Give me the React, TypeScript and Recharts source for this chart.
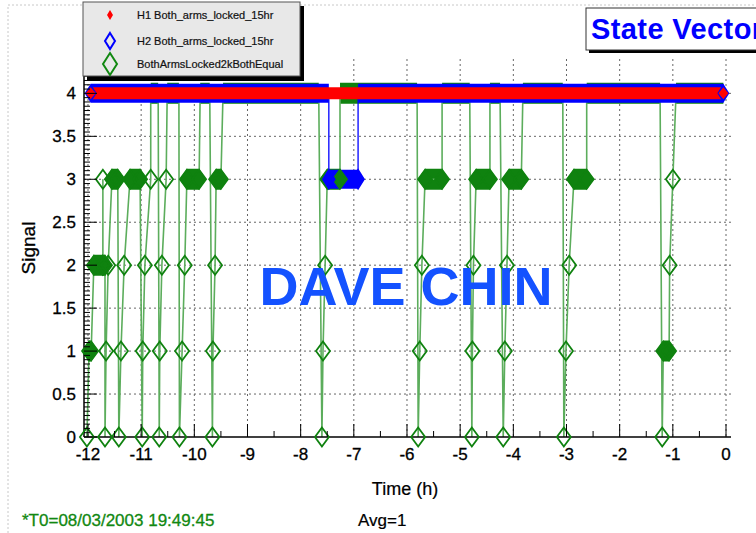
import React from 'react';
import { LineChart, Line, XAxis, YAxis, CartesianGrid } from 'recharts';

// ---- data (time in hours before T0, signal level) ----
const greenTimes = [
  -12.02, -11.98, -11.94, -11.89, -11.72, -11.72, -11.72, -11.68, -11.68, -11.66, -11.62,
  -11.55, -11.44, -11.42, -11.38, -11.32, -11.21, -11.02, -10.98, -10.97, -10.93, -10.82,
  -10.82, -10.68, -10.66, -10.65, -10.61, -10.53, -10.51, -10.29, -10.28, -10.23, -10.18,
  -10.14, -9.91, -9.89, -9.71, -9.66, -9.65, -9.61, -9.59, -9.5, -9.46,
  -7.66, -7.6, -7.58, -7.54, -7.5, -7.26, -7.26,
  -5.81, -5.79, -5.76, -5.72, -5.66, -5.34, -5.34,
  -4.82, -4.78, -4.77, -4.75, -4.7, -4.44, -4.44,
  -4.25, -4.19, -4.16, -4.12, -4.08, -3.85, -3.82,
  -3.07, -3.05, -3.01, -2.95, -2.86, -2.62, -2.62,
  -1.24, -1.2, -1.18, -1.07, -1.06, -1.0, -0.94, -0.05,
];
const greenValues = [
  0, 1, 1, 2, 2, 3, 2, 2, 0, 1, 2,
  3, 3, 0, 1, 2, 3, 3, 0, 1, 2, 3,
  4, 4, 0, 1, 2, 3, 4, 4, 0, 1, 2,
  3, 3, 4, 4, 0, 1, 2, 3, 3, 4,
  4, 0, 1, 2, 3, 3, 4,
  4, 0, 1, 2, 3, 3, 4,
  4, 0, 1, 2, 3, 3, 4,
  4, 0, 1, 2, 3, 3, 4,
  4, 0, 1, 2, 3, 3, 4,
  4, 0, 1, 1, 2, 3, 4, 4,
];
const blueTimes = [-11.95, -7.47, -7.47, -6.92, -6.92, -0.05];
const blueValues = [4, 4, 3, 3, 4, 4];
const redTimes = [-11.95, -0.05];
const redValues = [4, 4];

const xMajorTicks = [-12, -11, -10, -9, -8, -7, -6, -5, -4, -3, -2, -1, 0];
const yMajorTicks = [0, 0.5, 1, 1.5, 2, 2.5, 3, 3.5, 4];
const xAllTicks = Array.from({ length: 25 }, (_, i) => -12 + i * 0.5);
const yAllTicks = Array.from({ length: 89 }, (_, i) => Math.round(i * 5) / 100);

const legendRows = [
  { label: 'H1 Both_arms_locked_15hr', color: '#ff0000', kind: 'small' },
  { label: 'H2 Both_arms_locked_15hr', color: '#0000ff', kind: 'mid' },
  { label: 'BothArmsLocked2kBothEqual', color: '#118811', kind: 'big' },
];

const X_DOMAIN: [number, number] = [-12.075, 0.094];
const Y_DOMAIN: [number, number] = [0, 4.4];
const FONT = '"Liberation Sans", Arial, Helvetica, sans-serif';
const GREEN = '#0f820f';
const TOP_LEVEL = 4; // markers on this level sit under the H1/H2 band

type Pt = { t: number; v: number | null };

const toPoints = (ts: number[], vs: number[]): Pt[] => ts.map((t, i) => ({ t, v: vs[i] }));

// flat stretches (same level on consecutive samples) drawn as thick bands
const plateaus = (pts: Pt[]): Pt[] => {
  const out: Pt[] = [];
  for (let i = 1; i < pts.length; i++) {
    if (pts[i].v === pts[i - 1].v && pts[i].t > pts[i - 1].t) {
      out.push({ t: pts[i - 1].t, v: pts[i].v }, { t: pts[i].t, v: pts[i].v }, { t: pts[i].t, v: null });
    }
  }
  return out;
};

const greenPts = toPoints(greenTimes, greenValues);
const bluePts = toPoints(blueTimes, blueValues);
const redPts = toPoints(redTimes, redValues);
const blueFirst = blueTimes[0];
const blueLast = blueTimes[blueTimes.length - 1];

const diamond = (cx: number, cy: number, hw: number, hh: number) =>
  `M${cx},${cy - hh}L${cx + hw},${cy}L${cx},${cy + hh}L${cx - hw},${cy}Z`;

const makeDot =
  (color: string, hw: number, hh: number, filled: boolean, sw = 1.5, skip?: (pt: Pt) => boolean) =>
  (p: any) => {
    const { cx, cy, index } = p;
    const pt: Pt | undefined = p.payload;
    if (cx == null || cy == null || !pt || pt.v == null || (skip && skip(pt))) return <g key={`n${index}`} />;
    return (
      <path
        key={`d${index}`}
        d={diamond(cx, cy, hw, hh)}
        fill={filled ? color : 'none'}
        stroke={color}
        strokeWidth={filled ? 0 : sw}
      />
    );
  };

const onTop = (pt: Pt) => pt.v === TOP_LEVEL;
const blueInner = (pt: Pt) => pt.v === TOP_LEVEL && pt.t !== blueFirst && pt.t !== blueLast;

const isMajor = (v: number, step: number) => Math.abs(v / step - Math.round(v / step)) < 1e-6;

const LeftTick = (props: any) => {
  const { x, y, payload } = props;
  const ax = x + 8;
  const major = isMajor(payload.value, 0.5);
  return (
    <g>
      <line x1={ax} x2={ax + (major ? 13 : 6)} y1={y} y2={y} stroke="#000" />
      {major && (
        <text x={x} y={y} dy={6} textAnchor="end" fontSize={17} fontFamily={FONT} fill="#000" stroke="#000" strokeWidth={0.3}>
          {String(payload.value)}
        </text>
      )}
    </g>
  );
};

const RightTick = (props: any) => {
  const { x, y, payload } = props;
  const major = isMajor(payload.value, 0.5);
  return <line x1={x} x2={x - (major ? 13 : 6)} y1={y} y2={y} stroke="#000" />;
};

const BottomTick = (props: any) => {
  const { x, y, payload } = props;
  const ay = y - 8;
  const major = isMajor(payload.value, 1);
  return (
    <g>
      <line x1={x} x2={x} y1={ay} y2={ay - (major ? 13 : 6)} stroke="#000" />
      {major && (
        <text x={x} y={y} dy={15} textAnchor="middle" fontSize={17} fontFamily={FONT} fill="#000" stroke="#000" strokeWidth={0.3}>
          {String(payload.value)}
        </text>
      )}
    </g>
  );
};

const TopTick = (props: any) => {
  const { x, y, payload } = props;
  const major = isMajor(payload.value, 1);
  return <line x1={x} x2={x} y1={y} y2={y + (major ? 13 : 6)} stroke="#000" />;
};

const Overlay = () => (
  <svg width={756} height={533} style={{ position: 'absolute', left: 0, top: 0, pointerEvents: 'none' }}>
    {/* canvas border */}
    <rect x={8} y={5} width={800} height={600} fill="none" stroke="#c8c8c8" strokeDasharray="2 2" />

    {/* legend */}
    <rect x={87} y={6} width={217} height={75} fill="#000" />
    <rect x={83} y={2} width={217} height={74} fill="#e8e8e8" stroke="#555" />
    {legendRows.map((r, i) => {
      const cy = [15, 41, 64][i];
      const [hw, hh, filled] = r.kind === 'small' ? [3, 5, true] : r.kind === 'mid' ? [5, 8, false] : [7, 11, false];
      return (
        <g key={r.label}>
          <path d={diamond(110, cy, hw as number, hh as number)} fill={filled ? r.color : 'none'} stroke={r.color} strokeWidth={filled ? 0 : 2} />
          <text x={137} y={cy + 4} fontSize={11} fontFamily={FONT} fill="#111" stroke="#111" strokeWidth={0.2}>
            {r.label}
          </text>
        </g>
      );
    })}

    {/* title box, running off the right edge as in the original */}
    <rect x={589} y={11} width={200} height={42} fill="#000" />
    <rect x={586} y={8} width={200} height={42} fill="#fff" stroke="#333" />
    <text x={591} y={39} fontSize={29} fontWeight="bold" fontFamily={FONT} fill="#0000ff" letterSpacing={0.4}>
      State Vector
    </text>

    {/* watermark */}
    <text x={406} y={305} fontSize={54} fontWeight="bold" fontFamily={FONT} fill="#1452ff" textAnchor="middle">
      DAVE CHIN
    </text>

    {/* axis titles and footer */}
    <text x={35} y={248} fontSize={19} fontFamily={FONT} fill="#000" stroke="#000" strokeWidth={0.3} textAnchor="middle" transform="rotate(-90 35 248)">
      Signal
    </text>
    <text x={405} y={495} fontSize={18} fontFamily={FONT} fill="#000" stroke="#000" strokeWidth={0.2} textAnchor="middle">
      Time (h)
    </text>
    <text x={22} y={526} fontSize={17} fontFamily={FONT} fill="#118811" stroke="#118811" strokeWidth={0.3}>
      *T0=08/03/2003 19:49:45
    </text>
    <text x={358} y={526} fontSize={17} fontFamily={FONT} fill="#000" stroke="#000" strokeWidth={0.2}>
      Avg=1
    </text>
  </svg>
);

export default function App() {
  return (
    <div style={{ position: 'absolute', left: 0, top: 0, width: 756, height: 533, background: '#fff', fontFamily: FONT }}>
      <LineChart width={756} height={533} margin={{ top: 59, right: 25, bottom: 66, left: 24 }}>
        <CartesianGrid
          xAxisId="b"
          yAxisId="l"
          verticalValues={xMajorTicks}
          horizontalValues={yMajorTicks.filter((v) => v > 0)}
          stroke="#666"
          strokeDasharray="2 3"
        />
        <XAxis
          xAxisId="b"
          type="number"
          dataKey="t"
          domain={X_DOMAIN}
          ticks={xAllTicks}
          interval={0}
          height={30}
          tickSize={0}
          tickMargin={8}
          tick={<BottomTick />}
          tickLine={false}
          axisLine={{ stroke: '#000', strokeWidth: 1.5 }}
        />
        <XAxis
          xAxisId="t"
          orientation="top"
          type="number"
          dataKey="t"
          domain={X_DOMAIN}
          ticks={xAllTicks}
          interval={0}
          height={0}
          tickSize={0}
          tickMargin={0}
          tick={<TopTick />}
          tickLine={false}
          axisLine={{ stroke: '#000', strokeWidth: 1.5 }}
        />
        <YAxis
          yAxisId="l"
          type="number"
          domain={Y_DOMAIN}
          ticks={yAllTicks}
          interval={0}
          width={60}
          tickSize={0}
          tickMargin={8}
          tick={<LeftTick />}
          tickLine={false}
          axisLine={{ stroke: '#000', strokeWidth: 1.5 }}
        />
        <YAxis
          yAxisId="r"
          orientation="right"
          type="number"
          domain={Y_DOMAIN}
          ticks={yAllTicks}
          interval={0}
          width={0}
          tickSize={0}
          tickMargin={0}
          tick={<RightTick />}
          tickLine={false}
          axisLine={{ stroke: '#000', strokeWidth: 1.5 }}
        />

        {/* burst-amp state: bands, trace, markers */}
        <Line
          xAxisId="b"
          yAxisId="l"
          data={plateaus(greenPts)}
          dataKey="v"
          stroke={GREEN}
          strokeWidth={21}
          strokeLinecap="butt"
          connectNulls={false}
          dot={makeDot(GREEN, 7, 10.5, true, 0, onTop)}
          activeDot={false}
          isAnimationActive={false}
        />
        <Line
          xAxisId="b"
          yAxisId="l"
          data={greenPts}
          dataKey="v"
          stroke="#5cad5c"
          strokeWidth={1.6}
          dot={makeDot(GREEN, 7, 9.5, false, 1.8, onTop)}
          activeDot={false}
          isAnimationActive={false}
        />

        {/* H2 */}
        <Line
          xAxisId="b"
          yAxisId="l"
          data={plateaus(bluePts)}
          dataKey="v"
          stroke="#0000ff"
          strokeWidth={19}
          strokeLinecap="butt"
          connectNulls={false}
          dot={makeDot('#0000ff', 6, 9.5, true, 0, blueInner)}
          activeDot={false}
          isAnimationActive={false}
        />
        <Line
          xAxisId="b"
          yAxisId="l"
          data={bluePts}
          dataKey="v"
          stroke="#0000ff"
          strokeWidth={1.3}
          dot={makeDot('#0000ff', 6, 9.5, false, 1.5, onTop)}
          activeDot={false}
          isAnimationActive={false}
        />

        {/* H1 */}
        <Line
          xAxisId="b"
          yAxisId="l"
          data={plateaus(redPts)}
          dataKey="v"
          stroke="#ff0000"
          strokeWidth={12}
          strokeLinecap="butt"
          connectNulls={false}
          dot={makeDot('#ff0000', 5, 6, true)}
          activeDot={false}
          isAnimationActive={false}
        />
      </LineChart>
      <Overlay />
    </div>
  );
}
